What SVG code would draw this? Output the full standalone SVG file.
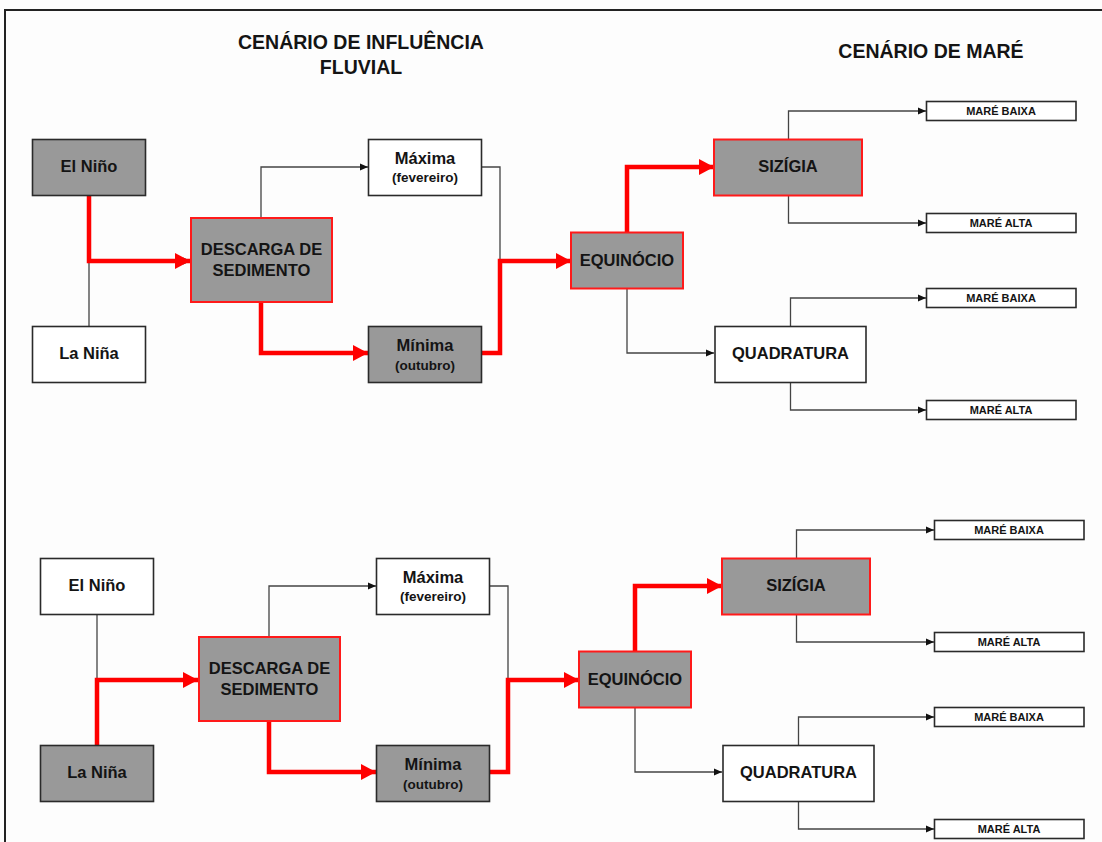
<svg xmlns="http://www.w3.org/2000/svg" width="1102" height="842" viewBox="0 0 1102 842">
  <defs>
    <marker id="arrow-red" markerUnits="userSpaceOnUse" markerWidth="15" markerHeight="16" refX="15" refY="8" orient="auto">
      <path d="M0,0 L15,8 L0,16 z" fill="#ff0000"/>
    </marker>
    <marker id="arrow-thin" markerUnits="userSpaceOnUse" markerWidth="8" markerHeight="8" refX="8" refY="4" orient="auto">
      <path d="M0,0.5 L8,4 L0,7.5 z" fill="#111"/>
    </marker>
    <style>
      .frame { fill: none; stroke: #222; stroke-width: 2; }
      .box { stroke: #2a2a2a; stroke-width: 1.6; }
      .hot { stroke: #ff1a1a; stroke-width: 2; }
      .gray { fill: #999999; }
      .white { fill: #ffffff; }
      .thin { fill: none; stroke: #444; stroke-width: 1.3; }
      .thin-arrow { fill: none; stroke: #444; stroke-width: 1.3; marker-end: url(#arrow-thin); }
      .red { fill: none; stroke: #ff0000; stroke-width: 4.5; stroke-linejoin: miter; }
      .red-arrow { fill: none; stroke: #ff0000; stroke-width: 4.5; stroke-linejoin: miter; marker-end: url(#arrow-red); }
      text { font-family: "Liberation Sans", Arial, sans-serif; font-weight: bold; fill: #141414; text-anchor: middle; }
      .title { font-size: 19.5px; }
      .lbl { font-size: 16.5px; }
      .sub { font-size: 13.5px; }
      .tiny { font-size: 11px; }
    </style>
  </defs>

  <rect x="0" y="0" width="1102" height="842" fill="#fdfdfd"/>
  <path class="frame" d="M5,842 V10 H1102"/>

  <!-- headings -->
  <g id="heading-fluvial">
    <text class="title" x="361" y="49">CENÁRIO DE INFLUÊNCIA</text>
    <text class="title" x="361" y="74">FLUVIAL</text>
  </g>
  <g id="heading-mare">
    <text class="title" x="931" y="58">CENÁRIO DE MARÉ</text>
  </g>

  <!-- connectors -->
  <g id="connectors">
    <!-- upper scenario -->
    <path class="thin-arrow" d="M89,326 V261 H191"/>
    <path class="red-arrow" d="M89,196 V261 H190"/>
    <path class="thin-arrow" d="M261,218 V167 H368"/>
    <path class="red-arrow" d="M261,302 V353 H368"/>
    <path class="thin" d="M481,167 H500 V261"/>
    <path class="red-arrow" d="M481,353 H500 V261 H571"/>
    <path class="red-arrow" d="M627,232 V167 H714"/>
    <path class="thin-arrow" d="M627,288 V353 H714"/>
    <path class="thin-arrow" d="M788.5,139 V111 H926"/>
    <path class="thin-arrow" d="M788.5,196 V223 H926"/>
    <path class="thin-arrow" d="M790.5,326 V298 H926"/>
    <path class="thin-arrow" d="M790.5,382 V410 H926"/>

    <!-- lower scenario -->
    <path class="thin" d="M97,614 V680"/>
    <path class="red-arrow" d="M97,745 V680 H198"/>
    <path class="thin-arrow" d="M269,637 V586 H376"/>
    <path class="red-arrow" d="M269,721 V772 H376"/>
    <path class="thin" d="M489,586 H508 V680"/>
    <path class="red-arrow" d="M489,772 H508 V680 H579"/>
    <path class="red-arrow" d="M635,651 V586 H722"/>
    <path class="thin-arrow" d="M635,707 V772 H722"/>
    <path class="thin-arrow" d="M796.5,558 V530 H934"/>
    <path class="thin-arrow" d="M796.5,615 V642 H934"/>
    <path class="thin-arrow" d="M798.5,745 V717 H934"/>
    <path class="thin-arrow" d="M798.5,801 V829 H934"/>
  </g>

  <!-- upper scenario nodes -->
  <g id="elnino-1">
    <rect class="box gray" x="32.5" y="139.5" width="113" height="56"/>
    <text class="lbl" x="89" y="172">El Niño</text>
  </g>
  <g id="lanina-1">
    <rect class="box white" x="32.5" y="326.5" width="113" height="56"/>
    <text class="lbl" x="89" y="359">La Niña</text>
  </g>
  <g id="descarga-1">
    <rect class="hot gray" x="191" y="218" width="141" height="84"/>
    <text class="lbl" x="261.5" y="255">DESCARGA DE</text>
    <text class="lbl" x="261.5" y="276">SEDIMENTO</text>
  </g>
  <g id="maxima-1">
    <rect class="box white" x="368.5" y="139.5" width="113" height="56"/>
    <text class="lbl" x="425" y="163.5">Máxima</text>
    <text class="sub" x="425" y="182">(fevereiro)</text>
  </g>
  <g id="minima-1">
    <rect class="box gray" x="368.5" y="326.5" width="113" height="56"/>
    <text class="lbl" x="425" y="351">Mínima</text>
    <text class="sub" x="425" y="369.5">(outubro)</text>
  </g>
  <g id="equinocio-1">
    <rect class="hot gray" x="571" y="232.5" width="112" height="56"/>
    <text class="lbl" x="627" y="266">EQUINÓCIO</text>
  </g>
  <g id="sizigia-1">
    <rect class="hot gray" x="714" y="139.5" width="148" height="56"/>
    <text class="lbl" x="788" y="172">SIZÍGIA</text>
  </g>
  <g id="quadratura-1">
    <rect class="box white" x="715" y="326.5" width="151" height="56"/>
    <text class="lbl" x="790.5" y="359">QUADRATURA</text>
  </g>
  <g id="mare-baixa-1a">
    <rect class="box white" x="926.5" y="101.5" width="149.5" height="19"/>
    <text class="tiny" x="1001" y="114.5">MARÉ BAIXA</text>
  </g>
  <g id="mare-alta-1a">
    <rect class="box white" x="926.5" y="213.5" width="149.5" height="19"/>
    <text class="tiny" x="1001" y="226.5">MARÉ ALTA</text>
  </g>
  <g id="mare-baixa-1b">
    <rect class="box white" x="926.5" y="288.5" width="149.5" height="19"/>
    <text class="tiny" x="1001" y="301.5">MARÉ BAIXA</text>
  </g>
  <g id="mare-alta-1b">
    <rect class="box white" x="926.5" y="400.5" width="149.5" height="19"/>
    <text class="tiny" x="1001" y="413.5">MARÉ ALTA</text>
  </g>

  <!-- lower scenario nodes -->
  <g id="elnino-2">
    <rect class="box white" x="40.5" y="558.5" width="113" height="56"/>
    <text class="lbl" x="97" y="591">El Niño</text>
  </g>
  <g id="lanina-2">
    <rect class="box gray" x="40.5" y="745.5" width="113" height="56"/>
    <text class="lbl" x="97" y="778">La Niña</text>
  </g>
  <g id="descarga-2">
    <rect class="hot gray" x="199" y="637" width="141" height="84"/>
    <text class="lbl" x="269.5" y="674">DESCARGA DE</text>
    <text class="lbl" x="269.5" y="695">SEDIMENTO</text>
  </g>
  <g id="maxima-2">
    <rect class="box white" x="376.5" y="558.5" width="113" height="56"/>
    <text class="lbl" x="433" y="582.5">Máxima</text>
    <text class="sub" x="433" y="601">(fevereiro)</text>
  </g>
  <g id="minima-2">
    <rect class="box gray" x="376.5" y="745.5" width="113" height="56"/>
    <text class="lbl" x="433" y="770">Mínima</text>
    <text class="sub" x="433" y="788.5">(outubro)</text>
  </g>
  <g id="equinocio-2">
    <rect class="hot gray" x="579" y="651.5" width="112" height="56"/>
    <text class="lbl" x="635" y="685">EQUINÓCIO</text>
  </g>
  <g id="sizigia-2">
    <rect class="hot gray" x="722" y="558.5" width="148" height="56"/>
    <text class="lbl" x="796" y="591">SIZÍGIA</text>
  </g>
  <g id="quadratura-2">
    <rect class="box white" x="723" y="745.5" width="151" height="56"/>
    <text class="lbl" x="798.5" y="778">QUADRATURA</text>
  </g>
  <g id="mare-baixa-2a">
    <rect class="box white" x="934.5" y="520.5" width="149.5" height="19"/>
    <text class="tiny" x="1009" y="533.5">MARÉ BAIXA</text>
  </g>
  <g id="mare-alta-2a">
    <rect class="box white" x="934.5" y="632.5" width="149.5" height="19"/>
    <text class="tiny" x="1009" y="645.5">MARÉ ALTA</text>
  </g>
  <g id="mare-baixa-2b">
    <rect class="box white" x="934.5" y="707.5" width="149.5" height="19"/>
    <text class="tiny" x="1009" y="720.5">MARÉ BAIXA</text>
  </g>
  <g id="mare-alta-2b">
    <rect class="box white" x="934.5" y="819.5" width="149.5" height="19"/>
    <text class="tiny" x="1009" y="832.5">MARÉ ALTA</text>
  </g>
</svg>
